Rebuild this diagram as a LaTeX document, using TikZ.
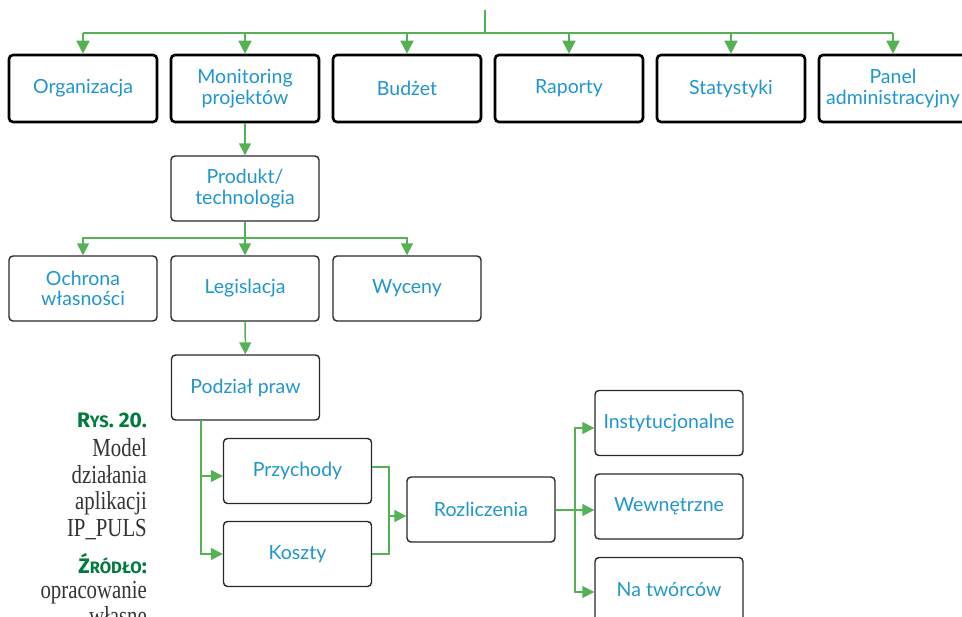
\documentclass[tikz,border=0pt]{standalone}
\usepackage{fontspec}
\setmainfont{Liberation Serif}
\setsansfont{Lato}
\newfontfamily\capfont[FakeStretch=0.8]{Liberation Serif}
\newfontfamily\tagfont{Fira Sans}
\usetikzlibrary{positioning,arrows.meta,calc}
\definecolor{LinkGreen}{RGB}{84,178,84}
\definecolor{LabelBlue}{RGB}{32,150,205}
\definecolor{TagGreen}{RGB}{0,122,61}
\definecolor{BoxEdge}{RGB}{40,40,40}

\begin{document}
\begin{tikzpicture}[x=1pt,y=-1pt,
box/.style={rectangle,rounded corners=4pt,draw=BoxEdge,line width=1.4pt,fill=white,minimum width=148pt,minimum height=65pt,align=center,text=LabelBlue,font=\sffamily\fontsize{19.5}{20.5}\selectfont},
topbox/.style={box,draw=black,line width=2.6pt,minimum height=67pt},
link/.style={draw=LinkGreen,line width=1.5pt},
arrow/.style={link,-{Triangle[length=12pt,width=12pt]}},
caption/.style={anchor=base east,inner sep=0pt,text=black!80,font=\capfont\fontsize{26}{27}\selectfont},
tag/.style={anchor=base east,inner sep=0pt,text=TagGreen,font=\tagfont\bfseries\fontsize{21}{23}\selectfont}
]
\useasboundingbox (0,0) rectangle (962,617);
% top row
\node[topbox] (org) at (83,88.5) {Organizacja};
\node[topbox] (mon) at (245,88.5) {Monitoring\\projektów};
\node[topbox] (bud) at (407,88.5) {Budżet};
\node[topbox] (rap) at (569,88.5) {Raporty};
\node[topbox] (stat) at (731,88.5) {Statystyki};
\node[topbox] (panel) at (893,88.5) {Panel\\administracyjny};
% lower boxes
\node[box] (prod) at (245,188.5) {Produkt/\\technologia};
\node[box] (och) at (83,288.5) {Ochrona\\własności};
\node[box] (leg) at (245,288.5) {Legislacja};
\node[box] (wyc) at (407,288.5) {Wyceny};
\node[box] (pod) at (245.5,387.5) {Podział praw};
\node[box] (przy) at (297.5,471) {Przychody};
\node[box] (kosz) at (297.5,554) {Koszty};
\node[box] (rozl) at (481,509.5) {Rozliczenia};
\node[box] (inst) at (669,423) {Instytucjonalne};
\node[box] (wewn) at (669,506.5) {Wewnętrzne};
\node[box] (tworc) at (669,590) {Na twórców};
% caption
\node[tag] (rys) at (147,428) {R{\fontsize{16.5}{18}\selectfont YS}. 20.};
\foreach \t/\y [count=\i] in {Model/457,działania/484,aplikacji/510,IP\_PULS/537}
  \node[caption] (opis\i) at (147,\y) {\t};
\node[tag] (zrodlo) at (147,573) {Ź{\fontsize{16.5}{18}\selectfont RÓDŁO}:};
\node[caption] (src1) at (147,598) {opracowanie};
\node[caption] (src2) at (147,624) {własne};
% connectors
\coordinate (root) at (485,10);
\coordinate (bus) at (485,33);
\coordinate (bus2) at (245,238);
\coordinate (split) at (201,420);
\coordinate (merge) at (389,516);
\coordinate (fork) at (575,510);
\draw[link] (root)--(bus);
\draw[link] (org.north|-bus)--(panel.north|-bus);
\foreach \n in {org,mon,bud,rap,stat,panel}
  \draw[arrow,-{Triangle[length=13pt,width=13pt]}] (\n.north|-bus)--(\n.north);
\draw[arrow] (mon)--(prod);
\draw[link] (och.north|-bus2)--(wyc.north|-bus2);
\draw[arrow] (prod)--(leg);
\draw[arrow] (bus2)-|(och.north);
\draw[arrow] (bus2)-|(wyc.north);
\draw[arrow] (leg)--(pod);
\draw[link] (split)--(split|-kosz.west);
\draw[arrow] (split)|-([yshift=-5pt]przy.west);
\draw[arrow] (split)|-(kosz.west);
\draw[link] ([yshift=4pt]przy.east)-|(merge);
\draw[link] (kosz.east)-|(merge);
\draw[arrow] (merge)--(merge-|rozl.west);
\draw[link] (rozl.east|-fork)--(fork);
\draw[link] (fork|-inst.west)++(0,5)--(fork|-tworc.west);
\draw[arrow] (fork)|-([yshift=-5pt]inst.west);
\draw[arrow] (fork)--(fork-|wewn.west);
\draw[arrow] (fork)|-([yshift=-2pt]tworc.west);
\end{tikzpicture}
\end{document}
